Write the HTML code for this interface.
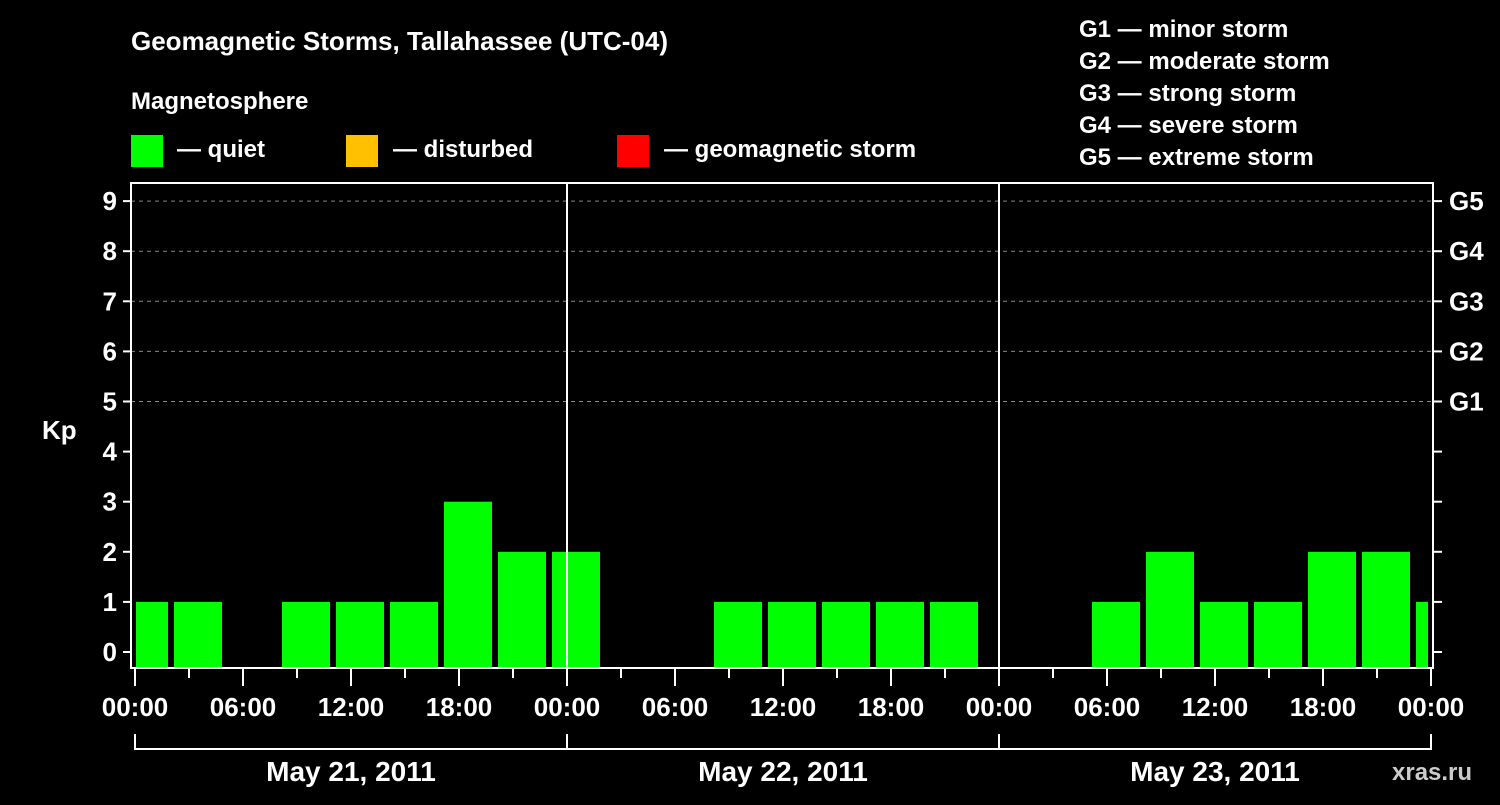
<!DOCTYPE html>
<html><head><meta charset="utf-8"><style>
body{margin:0;background:#000;width:1500px;height:800px;overflow:hidden}
svg text{font-family:"Liberation Sans",sans-serif;font-weight:bold;fill:#fff}
</style></head><body>
<svg id="c" width="1500" height="800" xmlns="http://www.w3.org/2000/svg">
<text x="131" y="50" font-size="26">Geomagnetic Storms, Tallahassee (UTC-04)</text>
<text x="131" y="109" font-size="24">Magnetosphere</text>
<rect x="131" y="135" width="32" height="32" fill="#00ff00"/>
<text x="177" y="157" font-size="24">— quiet</text>
<rect x="346" y="135" width="32" height="32" fill="#ffc000"/>
<text x="393" y="157" font-size="24">— disturbed</text>
<rect x="617" y="135" width="32" height="32" fill="#ff0000"/>
<text x="664" y="157" font-size="24">— geomagnetic storm</text>
<g font-size="24">
<text x="1079" y="37">G1 — minor storm</text>
<text x="1079" y="69">G2 — moderate storm</text>
<text x="1079" y="101">G3 — strong storm</text>
<text x="1079" y="133">G4 — severe storm</text>
<text x="1079" y="165">G5 — extreme storm</text>
</g>
<text x="42" y="439" font-size="26">Kp</text>
<text x="1392" y="780" font-size="24" fill="#fff" style="fill:#ccc">xras.ru</text>
<g id="grid"></g><g id="bars"></g><g id="axes"></g>
</svg>
<script>
const kpValues = [1,1,0,1,1,1,3,2,2, 0,0,1,1,1,1,1,0, 0,1,2,1,1,2,2,1];
const binStartHours = [-1,2,5,8,11,14,17,20,23, 26,29,32,35,38,41,44,47, 50,53,56,59,62,65,68,71];
const yTicks = [0,1,2,3,4,5,6,7,8,9];
const gLabels = ["G1","G2","G3","G4","G5"];
const gLevels = [5,6,7,8,9];
const timeLabels = ["00:00","06:00","12:00","18:00"];
const dayLabels = ["May 21, 2011","May 22, 2011","May 23, 2011"];
const NS="http://www.w3.org/2000/svg";
const X0=135,PXH=18,Y0=652,PXK=50.1,L=131,R=1433,T=183,B=668;
const xs=h=>X0+h*PXH, ys=k=>Y0-k*PXK;
function mk(p,tag,a){const e=document.createElementNS(NS,tag);for(const k in a)e.setAttribute(k,a[k]);document.getElementById(p).appendChild(e);return e;}
gLevels.forEach((k,i)=>{
 const l=mk('grid','line',{x1:L,x2:R,y1:ys(k),y2:ys(k),stroke:'#888','stroke-dasharray':'4,4'});
 
 
 const t=mk('axes','text',{x:1449,y:ys(k)+9,'font-size':26});t.textContent=gLabels[i];
 
 
});
kpValues.forEach((v,i)=>{
 let a=xs(binStartHours[i])+3,b=xs(binStartHours[i]+3)-3;
 a=Math.max(a,xs(0)+1);b=Math.min(b,xs(72)-3);
 if(v<=0)return;
 const r=mk('bars','rect',{x:a,y:ys(v),width:b-a,height:B-ys(v),fill:'#00ff00'});
 
 
});
let f=mk('axes','rect',{x:L,y:T,width:R-L,height:B-T,fill:'none',stroke:'#fff','stroke-width':2});


[1,2].forEach(d=>{const l=mk('axes','line',{x1:xs(24*d),x2:xs(24*d),y1:T,y2:B,stroke:'#fff','stroke-width':2});
 
 });
yTicks.forEach(k=>{
 mk('axes','line',{x1:123,x2:L,y1:ys(k),y2:ys(k),stroke:'#fff','stroke-width':2});
 mk('axes','line',{x1:R,x2:1442,y1:ys(k),y2:ys(k),stroke:'#fff','stroke-width':2});
 const t=mk('axes','text',{x:117,y:ys(k)+9,'font-size':26,'text-anchor':'end'});t.textContent=k;
 
 
});
for(let h=0;h<=72;h+=3){
 mk('axes','line',{x1:xs(h),x2:xs(h),y1:B,y2:h%6?678:686,stroke:'#fff','stroke-width':2});
 if(h%6===0){const t=mk('axes','text',{x:xs(h),y:716,'font-size':26,'text-anchor':'middle'});
  t.textContent=h===72?"00:00":timeLabels[(h%24)/6];
  
  }
}
mk('axes','line',{x1:xs(0),x2:xs(72),y1:749,y2:749,stroke:'#fff','stroke-width':2});
for(let d=0;d<=3;d++)mk('axes','line',{x1:xs(24*d),x2:xs(24*d),y1:734,y2:750,stroke:'#fff','stroke-width':2});
dayLabels.forEach((s,d)=>{const t=mk('axes','text',{x:xs(24*d+12),y:781,'font-size':28,'text-anchor':'middle'});t.textContent=s;
 
 });
</script>
</body></html>
